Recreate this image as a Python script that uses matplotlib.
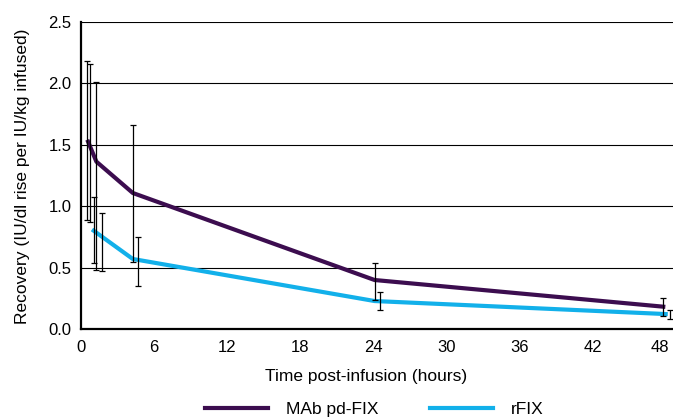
import matplotlib
matplotlib.use('Agg')
import matplotlib.pyplot as plt
from matplotlib.transforms import ScaledTranslation

plt.rcParams['font.family'] = ['Liberation Sans', 'DejaVu Sans']

# mean recovery curves
mab_time = [0.58, 1.26, 4.25, 24.1, 47.8]
mab_recovery = [1.526, 1.364, 1.109, 0.401, 0.184]
rfix_time = [1.04, 4.25, 24.1, 48.0]
rfix_recovery = [0.802, 0.572, 0.230, 0.124]

# error bars (low / high ends)
mab_bar_time = [0.49, 0.74, 1.26, 4.25, 24.1, 47.8]
mab_bar_low = [0.889, 0.871, 0.483, 0.550, 0.238, 0.108]
mab_bar_high = [2.185, 2.161, 2.015, 1.660, 0.537, 0.257]
rfix_bar_time = [1.04, 1.73, 4.66, 24.57, 48.34]
rfix_bar_low = [0.537, 0.474, 0.355, 0.157, 0.084]
rfix_bar_high = [1.079, 0.949, 0.753, 0.306, 0.157]

x_ticks = [0, 6, 12, 18, 24, 30, 36, 42, 48]
y_ticks = [0.0, 0.5, 1.0, 1.5, 2.0, 2.5]

purple = '#3c0d4f'
blue = '#12b0ea'

fig = plt.figure(figsize=(6.73, 4.18), dpi=100)
ax = fig.add_axes([0.1204, 0.2122, 0.8796, 0.7352])

for y in y_ticks[1:]:
    ax.axhline(y, color='black', lw=0.8, zorder=1)

ax.plot(mab_time, mab_recovery, color=purple, lw=3, label='MAb pd-FIX', zorder=3)
ax.plot(rfix_time, rfix_recovery, color=blue, lw=3, label='rFIX', zorder=3)


def draw_bars(times, low, high):
    mid = [(a + b) / 2 for a, b in zip(low, high)]
    err = [[m - a for m, a in zip(mid, low)], [b - m for m, b in zip(mid, high)]]
    ax.errorbar(times, mid, yerr=err, fmt='none', ecolor='black',
                elinewidth=0.9, capsize=2.5, capthick=0.9, zorder=4)


draw_bars(mab_bar_time, mab_bar_low, mab_bar_high)
draw_bars(rfix_bar_time, rfix_bar_low, rfix_bar_high)

ax.set_xlim(0, 48.6)
ax.set_ylim(0, 2.5)
ax.set_xticks(x_ticks)
ax.set_yticks(y_ticks)
ax.set_yticklabels([f'{v:.1f}' for v in y_ticks])
ax.tick_params(length=0, labelsize=12)
ax.tick_params(axis='x', pad=8)
ax.tick_params(axis='y', pad=7)

# keep the last x label inside the figure
last = ax.get_xticklabels()[-1]
last.set_transform(last.get_transform() + ScaledTranslation(-4 / 72, 0, fig.dpi_scale_trans))

for side in ['top', 'right']:
    ax.spines[side].set_visible(False)
ax.spines['left'].set_linewidth(1.6)
ax.spines['bottom'].set_linewidth(1.6)

ax.set_xlabel('Time post-infusion (hours)', fontsize=12.5)
ax.set_ylabel('Recovery (IU/dl rise per IU/kg infused)', fontsize=12.5)
ax.xaxis.set_label_coords(0.482, -0.128)
ax.yaxis.set_label_coords(-0.086, 0.497)

fig.legend(loc='center', bbox_to_anchor=(0.556, 0.02), ncol=2, frameon=False,
           fontsize=12.5, handlelength=3.65, handletextpad=1.0, columnspacing=3.0)

fig.savefig('out.png', dpi=100)
